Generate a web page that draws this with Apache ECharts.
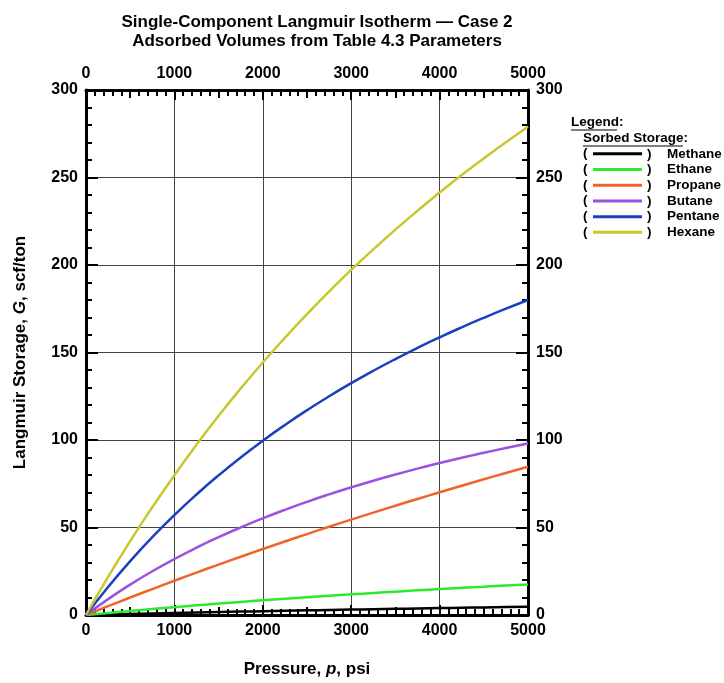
<!DOCTYPE html>
<html>
<head>
<meta charset="utf-8">
<script src="https://cdn.jsdelivr.net/npm/echarts@6/dist/echarts.min.js"></script>
<style>
  html, body { margin: 0; padding: 0; background: #fff; }
  #chart { width: 724px; height: 683px; }
</style>
</head>
<body>
<div id="chart"></div>
<script>
// pressure, psi
var pressure = [0, 250, 500, 750, 1000, 1250, 1500, 1750, 2000, 2250, 2500,
                2750, 3000, 3250, 3500, 3750, 4000, 4250, 4500, 4750, 5000];

// sorbed storage, scf/ton
var methane = [0, 0.3, 0.6, 0.88, 1.15, 1.42, 1.68, 1.93, 2.18, 2.42, 2.65,
               2.88, 3.1, 3.32, 3.53, 3.74, 3.94, 4.14, 4.33, 4.52, 4.7];
var ethane  = [0, 1.19, 2.33, 3.43, 4.49, 5.52, 6.51, 7.47, 8.39, 9.28, 10.15,
               10.99, 11.8, 12.59, 13.35, 14.09, 14.81, 15.51, 16.18, 16.84, 17.48];
var propane = [0, 5.04, 9.99, 14.83, 19.59, 24.25, 28.82, 33.3, 37.7, 42.01, 46.25,
               50.41, 54.5, 58.51, 62.45, 66.32, 70.12, 73.86, 77.53, 81.14, 84.69];
var butane  = [0, 9.07, 17.37, 24.98, 31.99, 38.47, 44.47, 50.05, 55.25, 60.11, 64.66,
               68.92, 72.93, 76.7, 80.27, 83.63, 86.82, 89.84, 92.7, 95.42, 98.0];
var pentane = [0, 16.04, 30.81, 44.45, 57.1, 68.85, 79.8, 90.03, 99.6, 108.58, 117.03,
               124.97, 132.47, 139.56, 146.26, 152.62, 158.65, 164.38, 169.83, 175.03, 180.0];
var hexane  = [0, 21.75, 42.25, 61.6, 79.9, 97.3, 113.8, 129.4, 144.3, 158.4, 171.9,
               184.8, 197.2, 208.9, 220.2, 231.0, 241.4, 251.4, 260.9, 270.1, 279.0];

var names  = ['Methane', 'Ethane', 'Propane', 'Butane', 'Pentane', 'Hexane'];
var values = [methane, ethane, propane, butane, pentane, hexane];
var colors = ['#000000', '#2eea2e', '#f0642a', '#9a52e0', '#1a40c0', '#c8c82a'];

var FONT = '"Liberation Sans", Arial, sans-serif';

function pairs(arr) {
  return pressure.map(function (p, i) { return [p, arr[i]]; });
}

var chart = echarts.init(document.getElementById('chart'));

var series = names.map(function (n, k) {
  return {
    name: n,
    type: 'line',
    xAxisIndex: 0,
    yAxisIndex: 0,
    showSymbol: false,
    smooth: true,
    data: pairs(values[k]),
    lineStyle: { color: colors[k], width: 2.5 },
    itemStyle: { color: colors[k] }
  };
});

function plain(v) { return String(v); }

function xAx(pos, main) {
  return {
    type: 'value',
    position: pos,
    min: 0, max: 5000,
    interval: main ? 1000 : 500,
    axisLine: { show: main, onZero: false, lineStyle: { color: '#000', width: 3 } },
    axisTick: { show: true, inside: true, length: main ? 10 : 8, lineStyle: { color: '#000', width: 2 } },
    minorTick: { show: main, splitNumber: 10, length: 6, lineStyle: { color: '#000', width: 2 } },
    splitLine: { show: main && pos === 'bottom', lineStyle: { color: '#444', width: 1 } },
    axisLabel: {
      show: main, margin: 8, formatter: plain,
      color: '#000', fontFamily: FONT, fontWeight: 'bold', fontSize: 16
    }
  };
}

function yAx(pos) {
  return {
    type: 'value',
    position: pos,
    min: 0, max: 300,
    interval: 50,
    axisLine: { show: true, onZero: false, lineStyle: { color: '#000', width: 3 } },
    axisTick: { show: true, inside: true, length: 12, lineStyle: { color: '#000', width: 2 } },
    minorTick: { show: true, splitNumber: 5, length: 6, lineStyle: { color: '#000', width: 2 } },
    splitLine: { show: pos === 'left', lineStyle: { color: '#444', width: 1 } },
    axisLabel: {
      margin: 8, formatter: plain,
      color: '#000', fontFamily: FONT, fontWeight: 'bold', fontSize: 16
    }
  };
}

var nameStyle = {
  color: '#000', fontFamily: FONT, fontWeight: 'bold', fontSize: 17,
  rich: { i: { color: '#000', fontFamily: FONT, fontWeight: 'bold', fontStyle: 'italic', fontSize: 17 } }
};

var xAxes = [xAx('bottom', true), xAx('top', true), xAx('bottom', false), xAx('top', false)];
xAxes[0].name = 'Pressure, {i|p}, psi';
xAxes[0].nameLocation = 'middle';
xAxes[0].nameGap = 46;
xAxes[0].nameTextStyle = nameStyle;

var yAxes = [yAx('left'), yAx('right')];
yAxes[0].name = 'Langmuir Storage, {i|G}, scf/ton';
yAxes[0].nameLocation = 'middle';
yAxes[0].nameGap = 57;
yAxes[0].nameTextStyle = nameStyle;

var txt = { fill: '#000', font: 'bold 13.5px ' + FONT };

var graphics = [
  { type: 'text', left: 571, top: 115, style: Object.assign({ text: 'Legend:' }, txt) },
  { type: 'line', shape: { x1: 571, y1: 130, x2: 617, y2: 130 }, style: { stroke: '#000', lineWidth: 1.2 } },
  { type: 'text', left: 583, top: 131, style: Object.assign({ text: 'Sorbed Storage:' }, txt) },
  { type: 'line', shape: { x1: 583, y1: 146, x2: 683, y2: 146 }, style: { stroke: '#000', lineWidth: 1.2 } }
];
names.forEach(function (n, k) {
  graphics.push({ type: 'text', left: 583, top: 146.5 + k * 15.7, style: Object.assign({ text: '(' }, txt) });
});

chart.setOption({
  animation: false,
  backgroundColor: '#fff',
  title: {
    text: 'Single-Component Langmuir Isotherm \u2014 Case 2\nAdsorbed Volumes from Table 4.3 Parameters',
    left: 312,
    top: 8,
    textAlign: 'center',
    textStyle: { color: '#000', fontFamily: FONT, fontWeight: 'bold', fontSize: 17, lineHeight: 19 }
  },
  grid: { left: 86, right: 196, top: 90, bottom: 62, containLabel: false },
  xAxis: xAxes,
  yAxis: yAxes,
  legend: {
    data: names,
    orient: 'vertical',
    left: 593,
    top: 146,
    padding: 0,
    itemGap: 0,
    icon: 'rect',
    itemWidth: 49,
    itemHeight: 3,
    selectedMode: false,
    formatter: function (name) { return '{p|)}{n|' + name + '}'; },
    textStyle: {
      color: '#000', fontFamily: FONT, fontWeight: 'bold', fontSize: 13.5, lineHeight: 15.7,
      rich: {
        p: { width: 20, color: '#000', fontFamily: FONT, fontWeight: 'bold', fontSize: 13.5, lineHeight: 15.7 },
        n: { color: '#000', fontFamily: FONT, fontWeight: 'bold', fontSize: 13.5, lineHeight: 15.7 }
      }
    }
  },
  graphic: graphics,
  series: series
});
</script>
</body>
</html>
